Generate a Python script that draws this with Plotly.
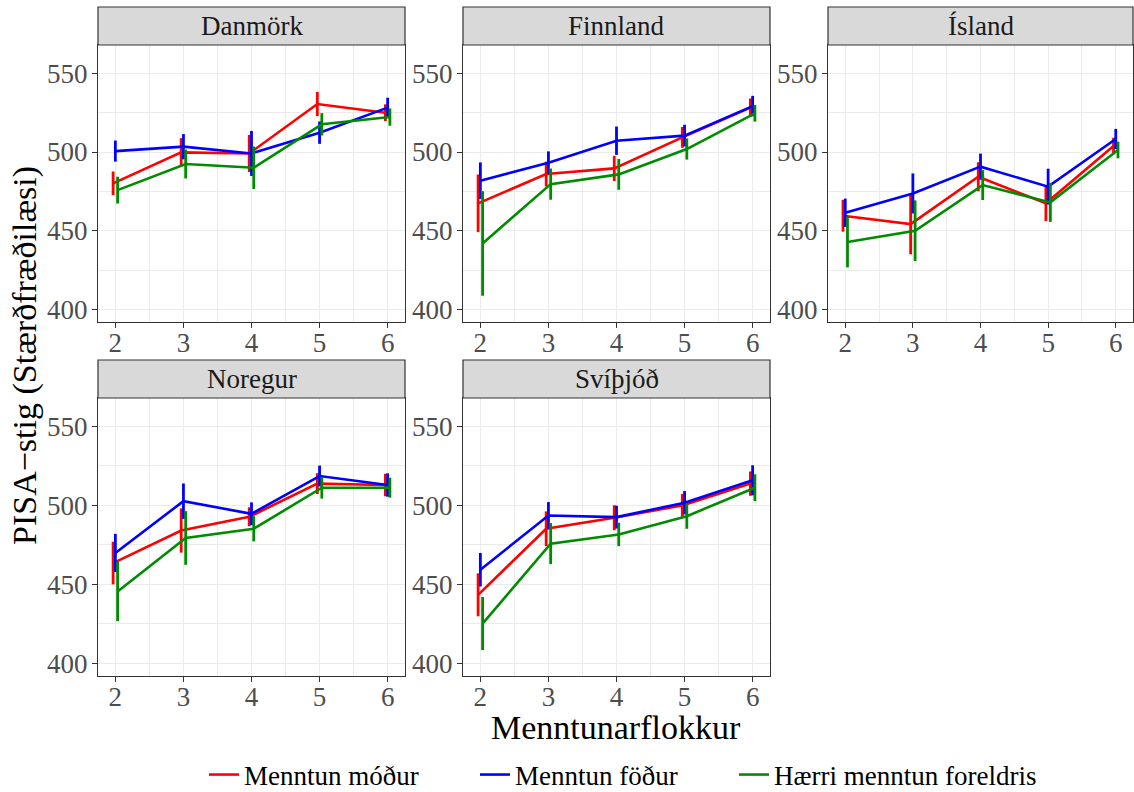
import plotly.graph_objects as go

# ---------------- data ----------------
countries = ["Danmörk", "Finnland", "Ísland", "Noregur", "Svíþjóð"]
levels = [2, 3, 4, 5, 6]
series_names = ["Menntun móður", "Menntun föður", "Hærri menntun foreldris"]

# mean PISA score per education level, and 95% CI half-width
dk_modur = [480.1, 499.8, 499.1, 530.5, 525.0]
dk_modur_ci = [7.5, 9.0, 11.8, 7.7, 5.3]
dk_fodur = [500.6, 503.4, 499.1, 512.3, 528.2]
dk_fodur_ci = [6.7, 8.0, 14.3, 7.1, 6.3]
dk_foreldri = [475.8, 492.4, 490.0, 517.6, 522.2]
dk_foreldri_ci = [8.5, 9.2, 13.5, 7.1, 5.5]

fi_modur = [467.4, 486.0, 489.6, 509.3, 528.2]
fi_modur_ci = [18.3, 7.9, 8.0, 6.6, 5.8]
fi_fodur = [481.8, 493.2, 507.2, 510.4, 529.2]
fi_fodur_ci = [11.6, 7.2, 9.0, 6.9, 6.5]
fi_foreldri = [441.9, 479.6, 485.8, 501.9, 524.6]
fi_foreldri_ci = [33.2, 9.9, 9.8, 6.7, 5.3]

is_modur = [459.5, 454.2, 484.3, 467.4, 503.8]
is_modur_ci = [10.1, 19.2, 9.2, 11.3, 5.3]
is_fodur = [461.4, 473.7, 490.7, 478.0, 508.3]
is_fodur_ci = [9.0, 12.7, 8.3, 11.4, 6.4]
is_foreldri = [442.8, 450.0, 479.0, 468.0, 501.3]
is_foreldri_ci = [16.1, 19.3, 9.5, 12.4, 5.3]

no_modur = [463.5, 484.1, 492.8, 513.8, 512.9]
no_modur_ci = [13.5, 14.0, 6.0, 6.6, 7.1]
no_fodur = [469.9, 502.7, 494.7, 518.6, 512.9]
no_fodur_ci = [12.1, 11.2, 7.2, 6.6, 7.4]
no_foreldri = [445.5, 479.4, 485.2, 511.2, 511.2]
no_foreldri_ci = [18.8, 17.0, 8.0, 6.9, 6.3]

se_modur = [443.4, 485.2, 492.2, 500.0, 513.8]
se_modur_ci = [13.6, 11.0, 7.9, 7.2, 7.7]
se_fodur = [459.3, 493.6, 492.6, 501.7, 515.9]
se_fodur_ci = [10.6, 8.5, 7.2, 7.4, 9.5]
se_foreldri = [425.2, 475.8, 481.6, 493.2, 511.2]
se_foreldri_ci = [16.8, 13.0, 7.4, 8.0, 8.5]

y_ticks = [400, 450, 500, 550]
x_ticks = [2, 3, 4, 5, 6]

data = {
    "Danmörk": [(dk_modur, dk_modur_ci), (dk_fodur, dk_fodur_ci), (dk_foreldri, dk_foreldri_ci)],
    "Finnland": [(fi_modur, fi_modur_ci), (fi_fodur, fi_fodur_ci), (fi_foreldri, fi_foreldri_ci)],
    "Ísland": [(is_modur, is_modur_ci), (is_fodur, is_fodur_ci), (is_foreldri, is_foreldri_ci)],
    "Noregur": [(no_modur, no_modur_ci), (no_fodur, no_fodur_ci), (no_foreldri, no_foreldri_ci)],
    "Svíþjóð": [(se_modur, se_modur_ci), (se_fodur, se_fodur_ci), (se_foreldri, se_foreldri_ci)],
}

# ---------------- style ----------------
colors = ["#FF0000", "#0000FF", "#008B00"]
dodge = [-0.033, 0.0, 0.033]
FONT = "Liberation Serif"
W, H = 1134, 792

# panel pixel boxes (left, right, top, bottom)
cols_px = [(98, 405), (463, 770), (828, 1133)]
rows_px = [(45, 322), (398, 676)]
strip_h = 38
legend_ids = ["legend", "legend2", "legend3"]
legend_x_px = [204, 475, 734]

fig = go.Figure()
shapes = []
annotations = []
layout_axes = {}

for i, country in enumerate(countries):
    r, c = divmod(i, 3)
    (x0, x1), (y0, y1) = cols_px[c], rows_px[r]
    n = i + 1
    xa = "x" if n == 1 else f"x{n}"
    ya = "y" if n == 1 else f"y{n}"
    xk = "xaxis" if n == 1 else f"xaxis{n}"
    yk = "yaxis" if n == 1 else f"yaxis{n}"

    for s, (vals, ci) in enumerate(data[country]):
        fig.add_trace(go.Scatter(
            x=[lv + dodge[s] for lv in levels],
            y=vals,
            mode="lines",
            line=dict(color=colors[s], width=2.6),
            error_y=dict(type="data", array=ci, visible=True, width=0,
                         thickness=2.8, color=colors[s]),
            name=series_names[s],
            legendgroup=series_names[s],
            legend=legend_ids[s],
            showlegend=(i == 0),
            xaxis=xa, yaxis=ya,
        ))

    common = dict(
        showline=True, mirror=True, linecolor="#333333", linewidth=1.2,
        ticks="outside", ticklen=5, tickcolor="#333333", tickwidth=1,
        showgrid=True, gridcolor="#EBEBEB", gridwidth=1.2,
        zeroline=False,
        tickfont=dict(family=FONT, size=27, color="#4D4D4D"),
    )
    layout_axes[xk] = dict(
        common, domain=[x0 / W, x1 / W], anchor=ya,
        range=[1.745, 6.255], tickvals=x_ticks, ticklabelstandoff=-9,
        minor=dict(showgrid=True, gridcolor="#EBEBEB", gridwidth=0.6,
                   tickvals=[1.5, 2.5, 3.5, 4.5, 5.5, 6.5], ticks=""),
    )
    layout_axes[yk] = dict(
        common, domain=[1 - y1 / H, 1 - y0 / H], anchor=xa,
        range=[392, 568], tickvals=y_ticks, ticklabelstandoff=-1,
        minor=dict(showgrid=True, gridcolor="#EBEBEB", gridwidth=0.6,
                   tickvals=[375, 425, 475, 525, 575], ticks=""),
    )

    # strip
    shapes.append(dict(type="rect", xref="paper", yref="paper",
                       x0=x0 / W, x1=x1 / W,
                       y0=1 - y0 / H, y1=1 - (y0 - strip_h) / H,
                       fillcolor="#D9D9D9", line=dict(color="#333333", width=1.2),
                       layer="above"))
    annotations.append(dict(text=country, xref="paper", yref="paper",
                            x=(x0 + x1) / 2 / W, y=1 - (y0 - strip_h / 2) / H,
                            xanchor="center", yanchor="middle", showarrow=False,
                            font=dict(family=FONT, size=27, color="#1A1A1A")))

annotations.append(dict(text="Menntunarflokkur", xref="paper", yref="paper",
                        x=616 / W, y=1 - 727 / H, xanchor="center", yanchor="middle",
                        showarrow=False, font=dict(family=FONT, size=34, color="black")))
annotations.append(dict(text="PISA\u2212stig (Stærðfræðilæsi)", xref="paper", yref="paper",
                        x=25 / W, y=1 - 356 / H, xanchor="center", yanchor="middle",
                        textangle=-90, showarrow=False,
                        font=dict(family=FONT, size=34, color="black")))

legend_layout = {}
for lid, lx in zip(legend_ids, legend_x_px):
    legend_layout[lid] = dict(
        orientation="h", x=lx / W, xanchor="left",
        xref="container", yref="container",
        y=1 - 775 / H, yanchor="middle",
        font=dict(family=FONT, size=27, color="black"),
        bgcolor="rgba(0,0,0,0)", itemwidth=30,
    )

fig.update_layout(
    width=W, height=H,
    margin=dict(l=0, r=0, t=0, b=0, autoexpand=False),
    paper_bgcolor="white", plot_bgcolor="white",
    shapes=shapes, annotations=annotations,
    **legend_layout,
    **layout_axes,
)

fig.write_html("out.html", config={"displayModeBar": False},
               post_script="document.body.style.margin='0px';")
